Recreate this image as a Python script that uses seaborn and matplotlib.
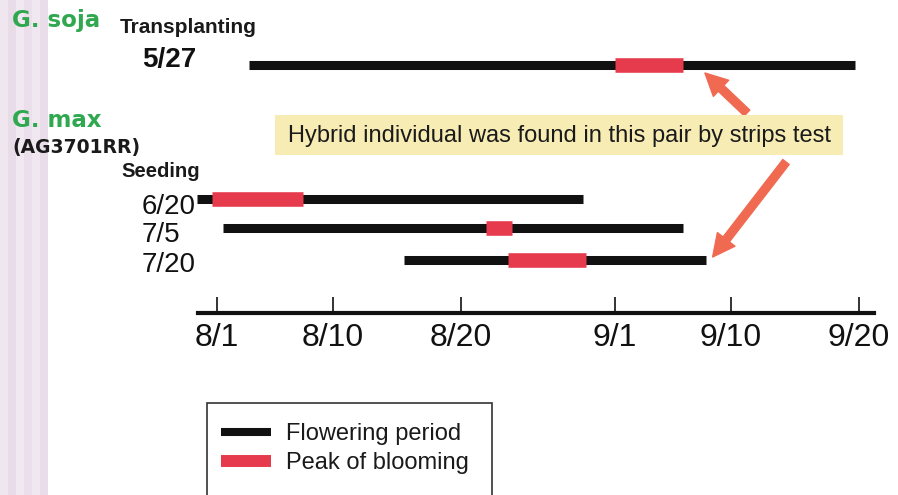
import matplotlib
matplotlib.use("Agg")
import matplotlib.pyplot as plt
from matplotlib.lines import Line2D
from matplotlib.patches import Rectangle
from matplotlib.transforms import Affine2D
import pandas as pd
import seaborn as sns

# Planting dates of each pair (rows), flowering period and peak of blooming
# given as days after August 1.
rows = ["5/27", "6/20", "7/5", "7/20"]
flower_start = [2.5, -1.55, 0.45, 14.6]
flower_end = [49.7, 28.5, 36.3, 38.1]
peak_start = [31.0, -0.4, 20.95, 22.7]
peak_end = [36.3, 6.7, 23.0, 28.7]

tick_days = [0, 9, 19, 31, 40, 50]
tick_labels = ["8/1", "8/10", "8/20", "9/1", "9/10", "9/20"]

# vertical placement of the rows (pixels from the top of the figure)
row_y = [65, 199, 228, 260]

sns.set_theme(style="white")
plt.rcParams["font.family"] = ["Liberation Sans", "DejaVu Sans"]
plt.rcParams["lines.solid_capstyle"] = "butt"

W, H = 898, 495
fig = plt.figure(figsize=(W / 100, H / 100), dpi=100)
fig.patch.set_facecolor("white")
PX = Affine2D().scale(1 / W, -1 / H).translate(0, 1) + fig.transFigure

# pale striped margin on the left
stripe_cols = ["#f0e6f0", "#e8dce9", "#f2e8f2", "#eadfeb", "#f1e7f1", "#e9dde9"]
for i, c in enumerate(stripe_cols):
    fig.patches.append(Rectangle((i * 8, 0), 8, H, transform=PX,
                                 facecolor=c, edgecolor="none", zorder=0))

# main axes: x in days after Aug 1, y in pixels from the top down to the time axis
AXIS_Y = 313
ax = fig.add_axes([0, 1 - AXIS_Y / H, 1, AXIS_Y / H])
ax.patch.set_alpha(0)
px_per_day = 12.84
x0 = -217 / px_per_day
ax.set_xlim(x0, x0 + W / px_per_day)
ax.set_ylim(AXIS_Y, 0)

flower = pd.DataFrame({
    "row": rows * 2,
    "day": flower_start + flower_end,
    "y": row_y * 2,
})
peak = pd.DataFrame({
    "row": rows * 2,
    "day": peak_start + peak_end,
    "y": row_y * 2,
})
sns.lineplot(data=flower, x="day", y="y", units="row", estimator=None, sort=False,
             color="#111111", linewidth=6.5, solid_capstyle="butt", ax=ax, legend=False)
sns.lineplot(data=peak, x="day", y="y", units="row", estimator=None, sort=False,
             color="#e63b4d", linewidth=10.5, solid_capstyle="butt", ax=ax, legend=False)

ax.set_xlabel("")
ax.set_ylabel("")
ax.set_yticks([])
for s in ["left", "top", "right"]:
    ax.spines[s].set_visible(False)
ax.spines["bottom"].set_visible(True)
ax.spines["bottom"].set_color("#111111")
ax.spines["bottom"].set_linewidth(3.0)
ax.spines["bottom"].set_bounds(-1.5, 51.2)

ax.set_xticks(tick_days)
ax.set_xticklabels(tick_labels, fontsize=23, color="#111111")
ax.tick_params(axis="x", direction="in", length=11.5, width=1.2, color="#111111",
               pad=7, bottom=True)
ax.set_ylim(AXIS_Y, 0)

# group and row labels
GREEN = "#2fa84f"
fig.text(12, 27, "G. soja", transform=PX, fontsize=16.5, fontweight="bold",
         color=GREEN, family="DejaVu Sans", va="baseline")
fig.text(120, 33, "Transplanting", transform=PX, fontsize=15, fontweight="bold",
         color="#1a1a1a", va="baseline")
fig.text(12, 127, "G. max", transform=PX, fontsize=16.5, fontweight="bold",
         color=GREEN, family="DejaVu Sans", va="baseline")
fig.text(12, 153, "(AG3701RR)", transform=PX, fontsize=13.5, fontweight="bold",
         color="#1a1a1a", family="DejaVu Sans", va="baseline")
fig.text(121, 177, "Seeding", transform=PX, fontsize=14.6, fontweight="bold",
         color="#1a1a1a", va="baseline")
label_base = [67, 214, 242, 272]
for r, yb in zip(rows, label_base):
    fig.text(142, yb, r, transform=PX, fontsize=20,
             fontweight="bold" if r == "5/27" else "normal",
             color="#111111", va="baseline")

# callout
fig.patches.append(Rectangle((275, 115), 568, 40, transform=PX,
                             facecolor="#f7ecb4", edgecolor="none", zorder=1))
fig.text(559, 136, "Hybrid individual was found in this pair by strips test",
         transform=PX, fontsize=17, color="#1a1a1a", ha="center", va="center", zorder=3)

ARROW = "#f06a52"
arrow_kw = dict(arrowstyle="simple,head_length=0.8,head_width=0.8,tail_width=0.29",
                color=ARROW, shrinkA=0, shrinkB=0, mutation_scale=20)
ax.annotate("", xy=(38.0, 73), xytext=(747, 113), textcoords=PX,
            arrowprops=arrow_kw, annotation_clip=False)
ax.annotate("", xy=(38.6, 257), xytext=(786, 162), textcoords=PX,
            arrowprops=arrow_kw, annotation_clip=False)

# legend with a frame that runs past the bottom edge
fig.patches.append(Rectangle((207, 403), 285, 120, transform=PX, facecolor="white",
                             edgecolor="#333333", linewidth=1.2, zorder=1))
handles = [Line2D([], [], color="#111111", linewidth=5.8, solid_capstyle="butt"),
           Line2D([], [], color="#e63b4d", linewidth=8.6, solid_capstyle="butt")]
leg = fig.legend(handles, ["Flowering period", "Peak of blooming"],
                 loc="upper left", bbox_to_anchor=(208, 410), bbox_transform=PX,
                 frameon=False, fontsize=17, handlelength=2.1, handletextpad=0.64,
                 labelspacing=0.3, borderpad=0.55, borderaxespad=0)
for t in leg.get_texts():
    t.set_color("#1a1a1a")

fig.savefig("out.png", dpi=100, facecolor="white")
